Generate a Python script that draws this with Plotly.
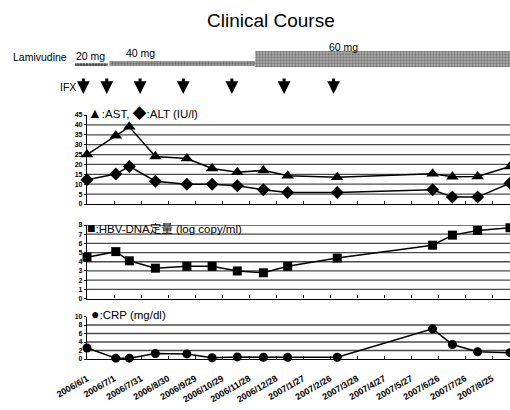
import pandas as pd
import plotly.graph_objects as go

W, H = 510, 410

# ---------------- data ----------------
lab_dates = ["2006-06-01", "2006-07-03", "2006-07-18", "2006-08-16", "2006-09-20",
             "2006-10-18", "2006-11-15", "2006-12-14", "2007-01-10", "2007-03-06",
             "2007-06-20", "2007-07-12", "2007-08-09", "2007-09-14"]
ast = [25, 34.5, 39, 24, 23, 18, 16, 17, 14.3, 13.5, 15.3, 13.8, 13.9, 19]
alt = [12.3, 15.2, 19, 11.5, 10, 10, 9.2, 7.2, 5.8, 5.8, 7.2, 3.5, 3.5, 10.5]
hbv = [4.5, 5.1, 4.1, 3.3, 3.5, 3.5, 3.0, 2.8, 3.5, 4.4, 5.8, 6.9, 7.4, 7.7]
crp = [2.6, 0.2, 0.2, 1.3, 1.2, 0.3, 0.5, 0.4, 0.4, 0.4, 7.1, 3.4, 1.7, 1.5]

ifx_dates = ["2006-05-28", "2006-06-23", "2006-07-30", "2006-09-16",
             "2006-11-09", "2007-01-06", "2007-03-02"]

lam_doses = ["20 mg", "40 mg", "60 mg"]
lam_start = ["2006-05-18", "2006-06-26", "2006-12-05"]
lam_end = ["2006-06-24", "2006-12-05", "2007-09-30"]

x_tick_vals = ["2006-06-01", "2006-07-01", "2006-07-31", "2006-08-30", "2006-09-29",
               "2006-10-29", "2006-11-28", "2006-12-28", "2007-01-27", "2007-02-26",
               "2007-03-28", "2007-04-27", "2007-05-27", "2007-06-26", "2007-07-26",
               "2007-08-25"]
x_tick_text = ["2006/6/1", "2006/7/1", "2006/7/31", "2006/8/30", "2006/9/29",
               "2006/10/29", "2006/11/28", "2006/12/28", "2007/1/27", "2007/2/26",
               "2007/3/28", "2007/4/27", "2007/5/27", "2007/6/26", "2007/7/26",
               "2007/8/25"]

grid_p1 = [5, 10, 15, 20, 25, 30, 35, 40]
grid_p2 = [1, 2, 3, 4, 5, 6, 7, 8]
grid_p3 = [2, 4, 6, 8]

# ---------------- helpers (layout only) ----------------
def px_x(px):
    return px / W

def px_y(py):
    return (H - py) / H

FONT = "Liberation Sans, Arial, Noto Sans CJK JP, sans-serif"
X_RANGE = ["2006-06-01", "2007-09-14"]
X4_RANGE = ["2006-05-18 17:00", "2007-09-14"]

fig = go.Figure()

# Lamivudine dose bars (gantt-like)
durations = [(pd.to_datetime(e) - pd.to_datetime(s)).total_seconds() * 1000
             for s, e in zip(lam_start, lam_end)]
fig.add_trace(go.Bar(
    base=lam_start, x=durations, y=[2.5, 3.5, 8], width=[3, 5, 16],
    orientation="h", xaxis="x4", yaxis="y4",
    marker=dict(color=["#4a4a4a", "#9a9a9a", "#a4a4a4"], line=dict(width=0),
                pattern=dict(shape=[".", ".", "."], fgcolor="#555555",
                             size=3, solidity=0.4, fillmode="overlay")),
    hoverinfo="skip", showlegend=False))

line_style = dict(color="black", width=1.5)
fig.add_trace(go.Scatter(x=lab_dates, y=ast, mode="lines+markers", line=line_style,
                         marker=dict(symbol="triangle-up", size=11, color="black"),
                         xaxis="x", yaxis="y", cliponaxis=False, showlegend=False))
fig.add_trace(go.Scatter(x=lab_dates, y=alt, mode="lines+markers", line=line_style,
                         marker=dict(symbol="diamond", size=10, color="black"),
                         xaxis="x", yaxis="y", cliponaxis=False, showlegend=False))
fig.add_trace(go.Scatter(x=lab_dates, y=hbv, mode="lines+markers", line=line_style,
                         marker=dict(symbol="square", size=9, color="black"),
                         xaxis="x2", yaxis="y2", cliponaxis=False, showlegend=False))
fig.add_trace(go.Scatter(x=lab_dates, y=crp, mode="lines+markers", line=line_style,
                         marker=dict(symbol="circle", size=9, color="black"),
                         xaxis="x3", yaxis="y3", cliponaxis=False, showlegend=False))

xdom = [px_x(87), 1]
tickfont_y = dict(family=FONT, size=7, color="black", weight="bold")
common_x = dict(type="date", range=X_RANGE, domain=xdom, showline=True,
                linecolor="black", linewidth=1.2, ticks="inside", ticklen=3,
                tickcolor="black", tickvals=x_tick_vals, showgrid=False,
                zeroline=False, fixedrange=True, automargin=False)
common_y = dict(showline=True, linecolor="black", linewidth=1.2, ticks="outside",
                ticklen=2, tickcolor="black", showgrid=False, zeroline=False,
                tickfont=tickfont_y, fixedrange=True, automargin=False)

fig.update_layout(
    width=W, height=H,
    margin=dict(l=0, r=0, t=0, b=0, autoexpand=False),
    paper_bgcolor="white", plot_bgcolor="white",
    barmode="overlay",
    xaxis=dict(common_x, anchor="y", showticklabels=False),
    xaxis2=dict(common_x, anchor="y2", showticklabels=False),
    xaxis3=dict(common_x, anchor="y3", showticklabels=True, ticktext=x_tick_text,
                tickangle=-30, ticklabelstandoff=10,
                tickfont=dict(family=FONT, size=9, color="black", weight="bold")),
    xaxis4=dict(type="date", range=X4_RANGE, domain=[px_x(75), 1], anchor="y4",
                visible=False, fixedrange=True, automargin=False),
    yaxis=dict(common_y, domain=[px_y(204), px_y(115)], range=[0, 45],
               tickvals=list(range(0, 50, 5)), anchor="x"),
    yaxis2=dict(common_y, domain=[px_y(298.5), px_y(225)], range=[0, 8],
                tickvals=list(range(0, 9)), anchor="x2"),
    yaxis3=dict(common_y, domain=[px_y(359), px_y(316.5)], range=[0, 10],
                tickvals=list(range(0, 12, 2)), anchor="x3"),
    yaxis4=dict(domain=[px_y(67), px_y(47)], range=[0, 20], visible=False,
                anchor="x4", fixedrange=True, automargin=False),
)

# horizontal grid lines
shapes = []
for yref, vals in (("y", grid_p1), ("y2", grid_p2), ("y3", grid_p3)):
    xr = {"y": "x", "y2": "x2", "y3": "x3"}[yref]
    for v in vals:
        shapes.append(dict(type="line", xref=xr + " domain", x0=0, x1=1,
                           yref=yref, y0=v, y1=v,
                           line=dict(color="#4a4a4a", width=1.3), layer="below"))
fig.update_layout(shapes=shapes)

ann = []
# title
ann.append(dict(text="Clinical Course", x=px_x(271), y=px_y(20), xref="paper", yref="paper",
                showarrow=False, font=dict(family=FONT, size=19, color="black"),
                xanchor="center", yanchor="middle"))
# Lamivudine labels
ann.append(dict(text="Lamivudine", x=px_x(11), y=px_y(57), xref="paper", yref="paper",
                showarrow=False, font=dict(family=FONT, size=10.5, color="black"),
                xanchor="left", yanchor="middle"))
for txt, xp, yp in zip(lam_doses, [74, 124, 327], [56, 53, 47]):
    ann.append(dict(text=txt, x=px_x(xp), y=px_y(yp), xref="paper", yref="paper",
                    showarrow=False, font=dict(family=FONT, size=10.5, color="black"),
                    xanchor="left", yanchor="middle"))
# IFX
ann.append(dict(text="IFX", x=px_x(58), y=px_y(87), xref="paper", yref="paper",
                showarrow=False, font=dict(family=FONT, size=10.5, color="black"),
                xanchor="left", yanchor="middle"))
for d in ifx_dates:
    ann.append(dict(text="", x=d, y=px_y(94), xref="x4", yref="paper",
                    showarrow=True, ax=0, ay=-17, arrowhead=2, arrowsize=0.85,
                    arrowwidth=3, arrowcolor="black"))
# panel titles
BIG = '<span style="font-size:14px">{}</span>'
for txt, xp, yp in ((BIG.format("▲") + ":AST, " + BIG.format("◆") + ":ALT (IU/l)", 86, 113),
                    (BIG.format("■") + ":HBV-DNA定量 (log copy/ml)", 85, 228),
                    (BIG.format("●") + ":CRP (mg/dl)", 89, 314)):
    ann.append(dict(text=txt, x=px_x(xp), y=px_y(yp), xref="paper", yref="paper",
                    showarrow=False, font=dict(family=FONT, size=11.5, color="black"),
                    xanchor="left", yanchor="middle"))
fig.update_layout(annotations=ann)

fig.write_html("out.html",
               config={"displayModeBar": False},
               post_script="document.body.style.margin='0';"
                           "document.body.style.padding='0';")
